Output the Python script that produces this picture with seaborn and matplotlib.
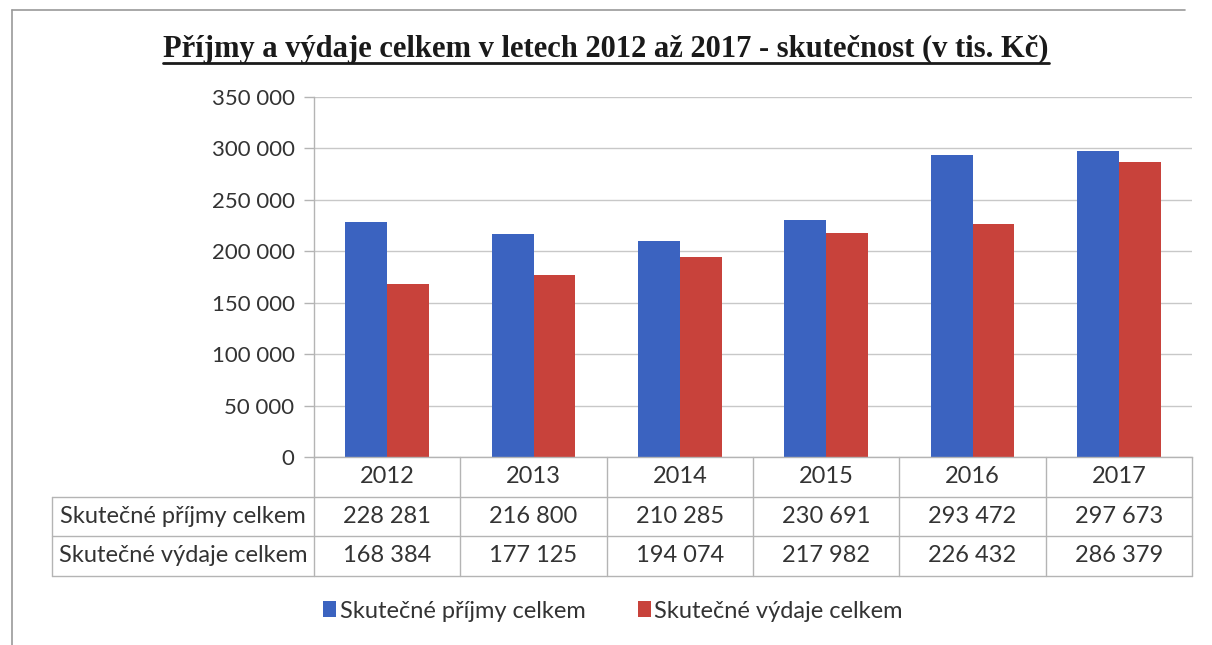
import numpy as np
import pandas as pd
import matplotlib
matplotlib.use("Agg")
import matplotlib.pyplot as plt
from matplotlib.lines import Line2D
from matplotlib.patches import Patch
import seaborn as sns

years = ["2012", "2013", "2014", "2015", "2016", "2017"]
series_names = ["Skutečné příjmy celkem", "Skutečné výdaje celkem"]
prijmy = [228281, 216800, 210285, 230691, 293472, 297673]
vydaje = [168384, 177125, 194074, 217982, 226432, 286379]
yticks = [0, 50000, 100000, 150000, 200000, 250000, 300000, 350000]
title = "Příjmy a výdaje celkem v letech 2012 až 2017 - skutečnost (v tis. Kč)"

colors = ["#3B63C0", "#C8423B"]
txt_col = "#333333"
line_col = "#b4b4b4"
font = ["Lato", "DejaVu Sans"]

sns.set_theme(style="white")
plt.rcParams["font.family"] = font

def fmt(v):
    return f"{int(v):,}".replace(",", " ")

df = pd.DataFrame({
    "year": years * 2,
    "series": [series_names[0]] * len(years) + [series_names[1]] * len(years),
    "value": prijmy + vydaje,
})

W, H = 1212, 645
fig = plt.figure(figsize=(W / 100, H / 100), dpi=100)
ax_l, ax_r, ax_t, ax_b = 314, 1192, 97, 457
ax = fig.add_axes([ax_l / W, 1 - ax_b / H, (ax_r - ax_l) / W, (ax_b - ax_t) / H])

sns.barplot(data=df, x="year", y="value", hue="series", palette=colors,
            width=0.57, gap=0, saturation=1, ax=ax, legend=False,
            edgecolor="none", linewidth=0)

ax.set_xlim(-0.5, len(years) - 0.5)
ax.set_ylim(0, 350000)
ax.set_yticks(yticks)
ax.set_yticklabels([fmt(v) for v in yticks], fontsize=16, color=txt_col)
ax.set_xticks([])
ax.set_xlabel("")
ax.set_ylabel("")
ax.yaxis.grid(True, color="#c8c8c8", linewidth=1)
ax.set_axisbelow(True)
ax.tick_params(axis="y", which="major", length=7, width=1, color=line_col,
               left=True, pad=7)
for s in ["top", "right"]:
    ax.spines[s].set_visible(False)
for s in ["left", "bottom"]:
    ax.spines[s].set_color(line_col)
    ax.spines[s].set_linewidth(1)

# data table below the axis
tr = ax.get_xaxis_transform()
col_w_px = (ax_r - ax_l) / len(years)
row_h = 39.5 / (ax_b - ax_t)
left_edge = -0.5 - (ax_l - 52) / col_w_px
n = len(years)
tfs = 17
lk = dict(color=line_col, linewidth=1, transform=tr, clip_on=False)
for k in range(n + 1):
    ax.add_line(Line2D([-0.5 + k, -0.5 + k], [0, -3 * row_h], **lk))
for r in (1, 2, 3):
    ax.add_line(Line2D([left_edge, n - 0.5], [-r * row_h, -r * row_h], **lk))
ax.add_line(Line2D([left_edge, left_edge], [-row_h, -3 * row_h], **lk))

for i, yr in enumerate(years):
    ax.text(i, -0.5 * row_h, yr, transform=tr, ha="center", va="center",
            fontsize=tfs, color=txt_col, clip_on=False)
for r, (name, vals) in enumerate(zip(series_names, [prijmy, vydaje]), start=1):
    yc = -(r + 0.5) * row_h
    ax.text((left_edge - 0.5) / 2, yc, name, transform=tr, ha="center",
            va="center", fontsize=tfs, color=txt_col, clip_on=False)
    for i, v in enumerate(vals):
        ax.text(i, yc, fmt(v), transform=tr, ha="center", va="center",
                fontsize=tfs, color=txt_col, clip_on=False)

# legend
handles = [Patch(facecolor=c, edgecolor="none") for c in colors]
fig.legend(handles, series_names, loc="center", bbox_to_anchor=(613 / W, 1 - 611 / H),
           ncol=2, frameon=False, fontsize=17, handlelength=0.55, handleheight=0.65,
           handletextpad=0.15, columnspacing=2.2, labelcolor=txt_col)

# title with underline
t = fig.text(606 / W, 1 - 49 / H, title, ha="center", va="center",
             fontsize=22, fontweight="bold", family=["Liberation Serif", "DejaVu Serif"],
             color="#1a1a1a")
fig.canvas.draw()
bb = t.get_window_extent(fig.canvas.get_renderer())
uy = bb.y0 + 1
fig.add_artist(Line2D([bb.x0 / W, bb.x1 / W], [uy / H, uy / H], color="#1a1a1a",
                      linewidth=2.0, transform=fig.transFigure))

# outer frame (scanned chart border)
fc = "#9a9a9a"
fig.add_artist(Line2D([12 / W, 12 / W], [0, 1 - 10 / H], color=fc, linewidth=1.2,
                      transform=fig.transFigure))
fig.add_artist(Line2D([12 / W, 1185 / W], [1 - 10 / H, 1 - 10 / H], color=fc,
                      linewidth=1.2, transform=fig.transFigure))

fig.savefig("out.png", dpi=100, facecolor="white")
